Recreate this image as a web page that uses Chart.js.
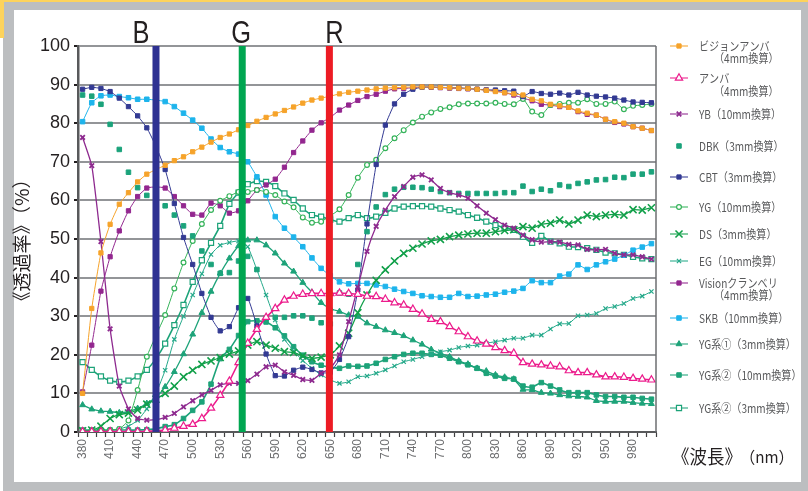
<!DOCTYPE html>
<html>
<head>
<meta charset="utf-8">
<script src="https://cdn.jsdelivr.net/npm/chart.js@4.4.1/dist/chart.umd.min.js"></script>
<style>
  body { margin: 0; width: 808px; height: 491px; position: relative; overflow: hidden; background: #fff; }
  #frame { position: absolute; left: 3px; top: 2px; right: 0; bottom: 0; background: #bcbec0; }
  #inner { position: absolute; left: 14px; top: 10px; width: 787px; height: 472px; background: #fff; }
  #tabTop { position: absolute; left: 0; top: 0; width: 808px; height: 2px; background: #fdd35c; }
  #tabLeft { position: absolute; left: 0; top: 0; width: 4px; height: 38px; background: #fdd35c; }
  #chart { position: absolute; left: 0; top: 0; }
</style>
</head>
<body>
<div id="frame"></div>
<div id="inner"></div>
<div id="tabTop"></div>
<div id="tabLeft"></div>
<canvas id="chart" width="808" height="491"></canvas>
<script>
// wavelengths 380..1000 nm, every 10 nm
const wavelengths = [];
for (let nm = 380; nm <= 1000; nm += 10) wavelengths.push(String(nm));

const yTicks = [0, 10, 20, 30, 40, 50, 60, 70, 80, 90, 100];

// B / G / R marker bars (nm)
const bandNames = ['B', 'G', 'R'];
const bandNm = [460, 554, 649];
const bandColors = ['#2e3192', '#00a651', '#ed1c24'];

const seriesNames = [
    ['ビジョンアンバ', '（4mm換算）'],
    ['アンバ', '（4mm換算）'],
    ['YB（10mm換算）'],
    ['DBK（3mm換算）'],
    ['CBT（3mm換算）'],
    ['YG（10mm換算）'],
    ['DS（3mm換算）'],
    ['EG（10mm換算）'],
    ['Visionクランベリ', '（4mm換算）'],
    ['SKB（10mm換算）'],
    ['YG系①（3mm換算）'],
    ['YG系②（10mm換算）'],
    ['YG系②（3mm換算）']
];

// transmittance (%)
const visionAmber = [10, 32, 46.4, 53.8, 59, 62, 64.8, 66.8, 68, 69.1,
    70.3, 71.3, 72.6, 73.8, 75.1, 76.3, 77.2, 78.3, 79.4, 80.5,
    81.5, 82.4, 83.3, 84.2, 85.2, 86, 86.5, 87, 87.6, 88,
    88.3, 88.6, 88.9, 89.1, 89.2, 89.3, 89.4, 89.4, 89.4, 89.3,
    89.2, 89.1, 89, 88.8, 88.5, 88.2, 87.9, 87.6, 87.3, 86.2,
    85.8, 84.9, 84.5, 84.1, 83.2, 82.6, 82.1, 81, 80.4, 80,
    79.1, 78.7, 78.1];
const amber = [0.1, 0.1, 0.1, 0.1, 0.1, 0.1, 0.1, 0.2, 0.3, 0.5,
    1, 1.5, 2, 3.5, 6.2, 9.5, 13.2, 18, 23, 26.6,
    29.7, 32, 34.2, 35.2, 35.7, 35.9, 35.9, 35.9, 36, 35.9,
    35.7, 35.2, 35.1, 34.4, 33.5, 32.9, 31.8, 30.6, 29.2, 28.6,
    27.3, 26, 24.7, 23.6, 22.8, 21.9, 21.1, 20.4, 18, 17.6,
    17.4, 17.1, 16.9, 15.9, 15.4, 15.4, 14.8, 14.3, 14.3, 14.2,
    13.9, 13.7, 13.5];
const yb = [76.3, 69, 49.3, 26.7, 11.9, 6, 3.5, 3.1, 3.2, 3.8,
    4.8, 6.5, 8.1, 9.6, 10.8, 12.2, 12.6, 12.6, 13.3, 15,
    16.9, 17.3, 15.6, 14.7, 13.6, 13.4, 15.2, 16.5, 20, 28.6,
    37.5, 46.8, 53.3, 57.5, 61, 63.6, 66, 66.6, 65.3, 63.1,
    62, 61.4, 60.6, 58.6, 56.7, 55, 53.6, 52.8, 51, 49.8,
    49.2, 49.3, 49.2, 48.6, 48.5, 47.3, 47.2, 47.3, 46.3, 45.9,
    45.9, 45.4, 44.8];
const dbk = [87.3, 87, 84.9, 79.7, 73.2, 67.3, 63.3, 61.3, 59.5, 58.6,
    56.2, 53.4, 50.8, 46.9, 43.4, 41.1, 41.3, 44.3, 45.5, 42.1,
    29.5, 29.7, 29.7, 30.1, 30.1, 29.5, 28.3, 28, 36, 35.7,
    43.4, 51.9, 58.3, 61.5, 62.9, 63.4, 63.4, 63.3, 62.9, 62.3,
    62, 61.8, 61.8, 61.8, 61.8, 61.8, 62, 62, 63.7, 62.3,
    62.9, 62.5, 64, 63.6, 64.4, 64.8, 65.3, 65.4, 66, 65.9,
    66.8, 66.8, 67.4];
const cbt = [88.8, 89.3, 89, 88.2, 86.5, 84.3, 81.9, 78.8, 74, 68,
    59.2, 50.4, 43.4, 35.9, 29.7, 26.2, 27.3, 32.2, 34.6, 27.5,
    20.2, 14.6, 14.5, 16, 16.8, 16.2, 15.3, 15.5, 18.8, 24.7,
    36.8, 53.9, 69.3, 79.5, 85, 87.5, 88.8, 89.3, 89.4, 89.3,
    89.2, 89.2, 89, 88.8, 88.6, 88.6, 88.4, 88.3, 86.9, 88.2,
    87.7, 87.5, 87.8, 87.3, 88, 87.3, 87, 86.8, 86.5, 86,
    85.5, 85.4, 85.3];
const yg = [0.2, 0.2, 0.3, 0.5, 0.8, 3, 10.9, 19.5, 25, 30.3,
    37.2, 43.9, 49.5, 53.9, 57.5, 59.9, 61.1, 62.2, 62.2, 62.7,
    62.2, 61.4, 59.7, 58.2, 55.6, 54.2, 54.5, 56, 57.7, 61.4,
    65.9, 69.2, 70.5, 73.5, 76.1, 78.2, 80.2, 81.7, 82.8, 83.7,
    84.1, 84.9, 85.1, 85.1, 85.1, 85.3, 85, 84.9, 86.3, 83,
    82.1, 84.7, 85, 85.3, 85.3, 86.2, 85, 85, 85.6, 83.6,
    84.5, 84.7, 85];
const ds = [0.3, 0.5, 1.5, 3.5, 4.5, 4.9, 5.7, 7.2, 8.5, 10,
    11.9, 14.3, 16, 17.5, 18.4, 19.3, 20.2, 21, 22.5, 23.4,
    22.5, 21.7, 20.8, 20.6, 19.7, 19.1, 19.4, 20, 22.3, 25.6,
    30.9, 35.5, 39.3, 42, 44.3, 46.3, 47.6, 48.7, 49.5, 49.9,
    50.6, 51, 51.3, 51.5, 51.5, 51.9, 52.2, 52.4, 53.2, 52.8,
    53.8, 54.1, 54.9, 53.9, 54.9, 56.2, 55.8, 56.2, 56.4, 56.2,
    57.6, 57.5, 58.1];
const eg = [0.3, 0.3, 0.3, 0.5, 0.8, 1.5, 3, 6, 10, 16,
    24, 30, 35.5, 41, 46, 48.4, 49.1, 49.5, 48, 42,
    35.5, 29, 24, 21, 18.5, 16.5, 14.8, 13.5, 12.6, 13,
    14.3, 14.5, 15.2, 16.1, 17.1, 18.2, 18.8, 19.5, 20.1, 20.8,
    21.2, 21.9, 22.3, 22.5, 23, 23.4, 23.8, 24.3, 24.3, 25.1,
    25.1, 26.7, 28, 28.1, 30.1, 30.3, 30.7, 32, 32.5, 33.3,
    34.6, 35.2, 36.4];
const visionCranberry = [10.4, 22.5, 36.5, 45.4, 52.1, 57.3, 61, 63.2, 63.5, 63.2,
    61, 58.6, 56.4, 56.2, 59.3, 58.6, 56.7, 57.3, 59.9, 62.7,
    64, 65.5, 68.6, 72.4, 75.4, 78.2, 80.1, 81.5, 83.4, 84.7,
    85.9, 86.9, 87.5, 88.3, 88.9, 89, 89.2, 89.4, 89.3, 89.2,
    89.1, 89, 88.9, 88.8, 88.6, 88.4, 87.9, 87.3, 86.5, 85.8,
    84.9, 84.7, 84.3, 84.1, 83, 82.3, 82.1, 81, 80.2, 79.8,
    79.1, 78.7, 78.1];
const skb = [80.4, 85.3, 87.1, 87.3, 86.9, 86.6, 86.2, 86.2, 86, 85.6,
    84.3, 82.6, 80.8, 78.7, 75.9, 73.7, 72.6, 72, 70, 66.1,
    61.4, 55.8, 52.8, 50.5, 48, 45.1, 42.4, 40.5, 38.9, 38.4,
    38.5, 38.5, 38.1, 37.7, 37, 36.4, 35.9, 35.3, 35.1, 34.9,
    34.9, 35.9, 35.1, 35.2, 35.5, 35.7, 36.2, 36.5, 37.2, 39.2,
    38.7, 38.7, 40.4, 40.9, 43.3, 42.1, 43.3, 44.1, 44.8, 45.8,
    47.1, 47.9, 48.8];
const ygKei1 = [7, 5.9, 5.4, 5.3, 5, 5.3, 6.1, 7.4, 9, 11.7,
    15.6, 20.2, 25.3, 30.9, 36.4, 41.1, 45, 48.2, 49.7, 49.7,
    48.4, 46.3, 43.7, 41.6, 38.7, 36.2, 33.5, 32, 31.2, 30.3,
    29.9, 28.2, 27.3, 26.4, 25.7, 24.9, 23.8, 22.7, 21.4, 20.4,
    19.5, 18.4, 17.6, 16.5, 15.8, 14.8, 14.2, 13.7, 11, 10.9,
    10.2, 10, 9.6, 9.3, 9.2, 9, 8.1, 7.9, 7.9, 7.9,
    7.6, 7.4, 7.3];
const ygKei2_10 = [0.5, 0.5, 0.5, 0.5, 0.5, 0.5, 0.5, 0.6, 0.8, 1.4,
    1.9, 3.5, 5.6, 7.8, 12.4, 19, 21.4, 25, 28.6, 28.8,
    28.5, 27, 24.9, 22.1, 19.9, 18.2, 17.3, 16.8, 16.5, 17.1,
    17, 17.1, 17.8, 18.8, 19.5, 20.1, 20.4, 20.4, 20.1, 19.9,
    19.1, 18.2, 17.4, 16.5, 15.2, 14.5, 13.9, 13.7, 11.9, 11.6,
    12.8, 11.9, 10.9, 10.2, 10.2, 10.2, 9.6, 9.2, 9.2, 9,
    9, 8.7, 8.5];
const ygKei2_3 = [18.1, 16.1, 14.4, 13.3, 13, 13.3, 14.4, 16.1, 19, 22.9,
    27.7, 32.9, 38.9, 44.5, 49, 53.4, 59.1, 62, 64.2, 65,
    64.8, 63.7, 61.8, 60.1, 57.9, 56.2, 55.8, 55, 54.5, 55.4,
    56.2, 55.4, 55.8, 56.8, 57.9, 58.4, 58.5, 58.5, 58.4, 57.9,
    57.5, 57.1, 56.2, 55.5, 54.5, 53.6, 52.9, 52.4, 50.6, 49,
    50.8, 49.3, 48.9, 48, 47.9, 47.6, 47.2, 46.5, 46.3, 45.9,
    45.4, 45, 44.8];

const seriesData = [visionAmber, amber, yb, dbk, cbt, yg, ds, eg,
    visionCranberry, skb, ygKei1, ygKei2_10, ygKei2_3];

// look of every series: colour, marker, marker size, marker stroke, hollow marker, line width
const seriesStyles = [
    { color: '#f6a32a', point: 'rect', r: 3, bw: 1, hollow: false, line: 1 },
    { color: '#ec1c8c', point: 'triangle', r: 4.2, bw: 1.2, hollow: true, line: 1.6 },
    { color: '#8e2a8f', point: 'crossRot', r: 3.2, bw: 1.8, hollow: false, line: 1.3 },
    { color: '#1ba37b', point: 'rect', r: 3.2, bw: 1, hollow: false, line: 0 },
    { color: '#333a93', point: 'rect', r: 3, bw: 1, hollow: false, line: 1 },
    { color: '#35b35a', point: 'circle', r: 2.4, bw: 1.2, hollow: true, line: 1 },
    { color: '#12a04a', point: 'crossRot', r: 5, bw: 1.6, hollow: false, line: 1.3 },
    { color: '#25a98a', point: 'crossRot', r: 3, bw: 1.2, hollow: false, line: 1 },
    { color: '#93278f', point: 'rect', r: 3, bw: 1, hollow: false, line: 1 },
    { color: '#1db4ec', point: 'rect', r: 3.2, bw: 1, hollow: false, line: 1 },
    { color: '#1da379', point: 'triangle', r: 3.4, bw: 1, hollow: false, line: 1.3 },
    { color: '#1da379', point: 'rect', r: 3.2, bw: 1, hollow: false, line: 1.6 },
    { color: '#1da379', point: 'rect', r: 3.6, bw: 1.2, hollow: true, line: 1.6 }
];

// legend rows (y of each text line)
const legendRows = [[46, 58], [78, 91], [114], [146], [177], [207], [234], [261],
    [283, 295], [318], [344], [375], [408]];

const datasets = seriesData.map((values, k) => {
    const s = seriesStyles[k];
    return {
        label: seriesNames[k].join(''),
        data: values,
        borderColor: s.color,
        backgroundColor: s.color,
        borderWidth: s.line,
        showLine: s.line > 0,
        tension: 0.15,
        pointStyle: s.point,
        pointRadius: s.r,
        pointBorderWidth: s.bw,
        pointBorderColor: s.color,
        pointBackgroundColor: s.hollow ? '#ffffff' : s.color
    };
});

function drawMarker(ctx, style, x, y) {
    ctx.save();
    ctx.strokeStyle = style.color;
    ctx.fillStyle = style.hollow ? '#ffffff' : style.color;
    ctx.lineWidth = style.bw;
    Chart.helpers.drawPoint(ctx, { pointStyle: style.point, radius: style.r, borderWidth: style.bw, rotation: 0 }, x, y);
    ctx.restore();
}

function drawSqueezed(ctx, text, x, y, font, sx, color) {
    ctx.save();
    ctx.font = font;
    ctx.fillStyle = color;
    ctx.textBaseline = 'middle';
    ctx.translate(x, y);
    ctx.scale(sx, 1);
    ctx.fillText(text, 0, 0);
    ctx.restore();
}

const decorPlugin = {
    id: 'decor',
    afterDatasetsDraw(chart) {
        const ctx = chart.ctx;
        const area = chart.chartArea;
        const x = chart.scales.x;
        const letterShift = [-15, -1, 5];
        bandNames.forEach((name, k) => {
            const px = x.getPixelForValue((bandNm[k] - Number(wavelengths[0])) / 10);
            ctx.fillStyle = bandColors[k];
            ctx.fillRect(px - 3.5, area.top, 7, area.bottom - area.top);
            ctx.save();
            ctx.font = '31px "Liberation Sans"';
            ctx.fillStyle = '#231f20';
            ctx.textAlign = 'center';
            ctx.textBaseline = 'alphabetic';
            ctx.translate(px + letterShift[k], 43);
            ctx.scale(0.82, 1);
            ctx.fillText(name, 0, 0);
            ctx.restore();
        });
        // right border of the plot
        ctx.save();
        ctx.strokeStyle = '#6d6e70';
        ctx.lineWidth = 1.5;
        ctx.beginPath();
        ctx.moveTo(area.right, area.top);
        ctx.lineTo(area.right, area.bottom);
        ctx.stroke();
        ctx.restore();
    },
    afterDraw(chart) {
        const ctx = chart.ctx;
        // legend
        seriesNames.forEach((lines, k) => {
            const s = seriesStyles[k];
            const y = legendRows[k][0];
            if (s.line > 0) {
                ctx.save();
                ctx.strokeStyle = s.color;
                ctx.globalAlpha = 0.7;
                ctx.lineWidth = 1.5;
                ctx.beginPath();
                ctx.moveTo(670, y);
                ctx.lineTo(688, y);
                ctx.stroke();
                ctx.restore();
            }
            drawMarker(ctx, s, 679, y);
            lines.forEach((t, j) => {
                drawSqueezed(ctx, t, j === 0 ? 699 : 714, legendRows[k][j], '12px "Noto Sans CJK JP"', 0.84, '#58595b');
            });
        });
        // axis titles
        ctx.save();
        ctx.translate(22, 240);
        ctx.rotate(-Math.PI / 2);
        ctx.font = '19px "Noto Sans CJK JP"';
        ctx.fillStyle = '#231f20';
        ctx.textAlign = 'center';
        ctx.textBaseline = 'middle';
        ctx.fillText('《透過率》（%）', 0, 0);
        ctx.restore();
        drawSqueezed(ctx, '《波長》', 672, 457, '19px "Noto Sans CJK JP"', 0.92, '#231f20');
        drawSqueezed(ctx, '（nm）', 740, 457, '16px "Noto Sans CJK JP"', 0.95, '#231f20');
    }
};

new Chart(document.getElementById('chart'), {
    type: 'line',
    data: { labels: wavelengths, datasets: datasets },
    options: {
        responsive: false,
        animation: false,
        devicePixelRatio: 1,
        layout: { padding: { left: 0, top: 46, right: 152, bottom: 0 } },
        plugins: { legend: { display: false }, tooltip: { enabled: false } },
        scales: {
            x: {
                type: 'category',
                offset: true,
                afterFit: (s) => { s.height = 59; },
                grid: { display: true, drawOnChartArea: false, offset: true, tickLength: 5, tickColor: '#414042', tickWidth: 1.2 },
                border: { color: '#58595b', width: 2 },
                ticks: {
                    autoSkip: false,
                    maxRotation: 90,
                    minRotation: 90,
                    padding: 2,
                    color: '#6d6e70',
                    font: { family: 'Liberation Sans', size: 12 },
                    callback: (v, i) => (i % 3 === 0 && i < 61 ? wavelengths[i] : '')
                }
            },
            y: {
                min: 0,
                max: 100,
                afterFit: (s) => { s.width = 78; },
                afterBuildTicks: (s) => { s.ticks = yTicks.map(v => ({ value: v })); },
                grid: { color: '#939598', lineWidth: 2, tickLength: 4, tickColor: '#231f20' },
                border: { color: '#58595b', width: 2.5 },
                ticks: {
                    padding: 4,
                    color: '#231f20',
                    font: { family: 'Liberation Sans', size: 18 }
                }
            }
        }
    },
    plugins: [decorPlugin]
});
</script>
</body>
</html>
